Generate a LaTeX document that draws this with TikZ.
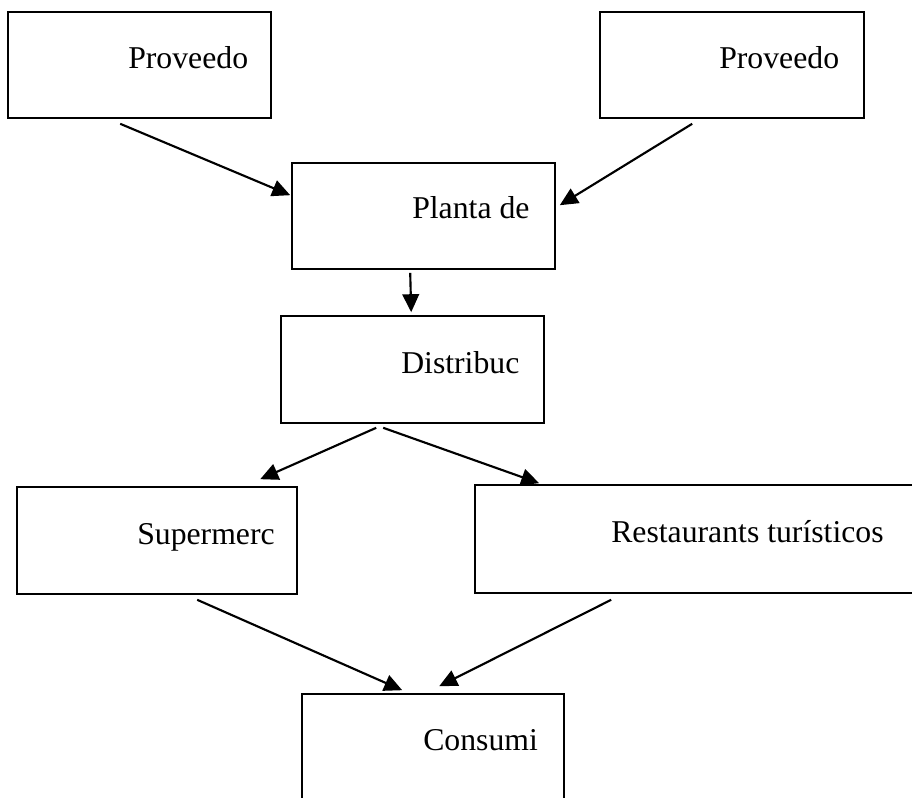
\documentclass[tikz,border=0pt]{standalone}
\usepackage{fontspec}
\setmainfont{Liberation Serif}
\usetikzlibrary{arrows.meta,calc,fit}
\begin{document}
\begin{tikzpicture}[x=0.75pt,y=-0.75pt,
  box/.style={draw=black,line width=1.2pt,inner sep=0pt,rectangle},
  lbl/.style={anchor=base west,inner sep=0pt,font=\fontsize{23.8pt}{28pt}\selectfont},
  flow/.style={line width=1.6pt,-{Triangle[length=13.5pt,width=12.5pt]}}]
\useasboundingbox (0,0) rectangle (912,798);
\clip (0,0) rectangle (912,798);
% boxes
\node[box,fit={(8,12) (271,118)}] (prov1) {};
\node[box,fit={(600,12) (864,118)}] (prov2) {};
\node[box,fit={(292,163) (555,269)}] (planta) {};
\node[box,fit={(281,316) (544,423)}] (dist) {};
\node[box,fit={(17,487) (297,594)}] (super) {};
\node[box,fit={(475,485) (940,593)}] (rest) {};
\node[box,fit={(302,694) (564,830)}] (cons) {};
% labels
\node[lbl] (prov1t) at (128,69) {Proveedo};
\node[lbl] (prov2t) at (719,69) {Proveedo};
\node[lbl] (plantat) at (412,219) {Planta de};
\node[lbl] (distt) at (401,373) {Distribuc};
\node[lbl] (supert) at (137,544) {Supermerc};
\node[lbl] (restt) at (611,542) {Restaurants turísticos};
\node[lbl] (const) at (423,750) {Consumi};
% connectors
\draw[flow] ($(prov1.south west)+(113,5)$) -- ($(planta.north west)+(-1,33)$);
\draw[flow] ($(prov2.south west)+(93,5)$) -- ($(planta.north east)+(4,43)$);
\draw[flow] ($(planta.south west)+(119,3)$) -- ($(dist.north west)+(131,-3)$);
\draw[flow] ($(dist.south west)+(96,4)$) -- ($(super.north west)+(244,-7)$);
\draw[flow] ($(dist.south west)+(103,4)$) -- ($(rest.north west)+(65,-1)$);
\draw[flow] ($(super.south west)+(181,5)$) -- ($(cons.north west)+(101,-3)$);
\draw[flow] ($(rest.south west)+(137,6)$) -- ($(cons.north west)+(138,-7)$);
\end{tikzpicture}
\end{document}
